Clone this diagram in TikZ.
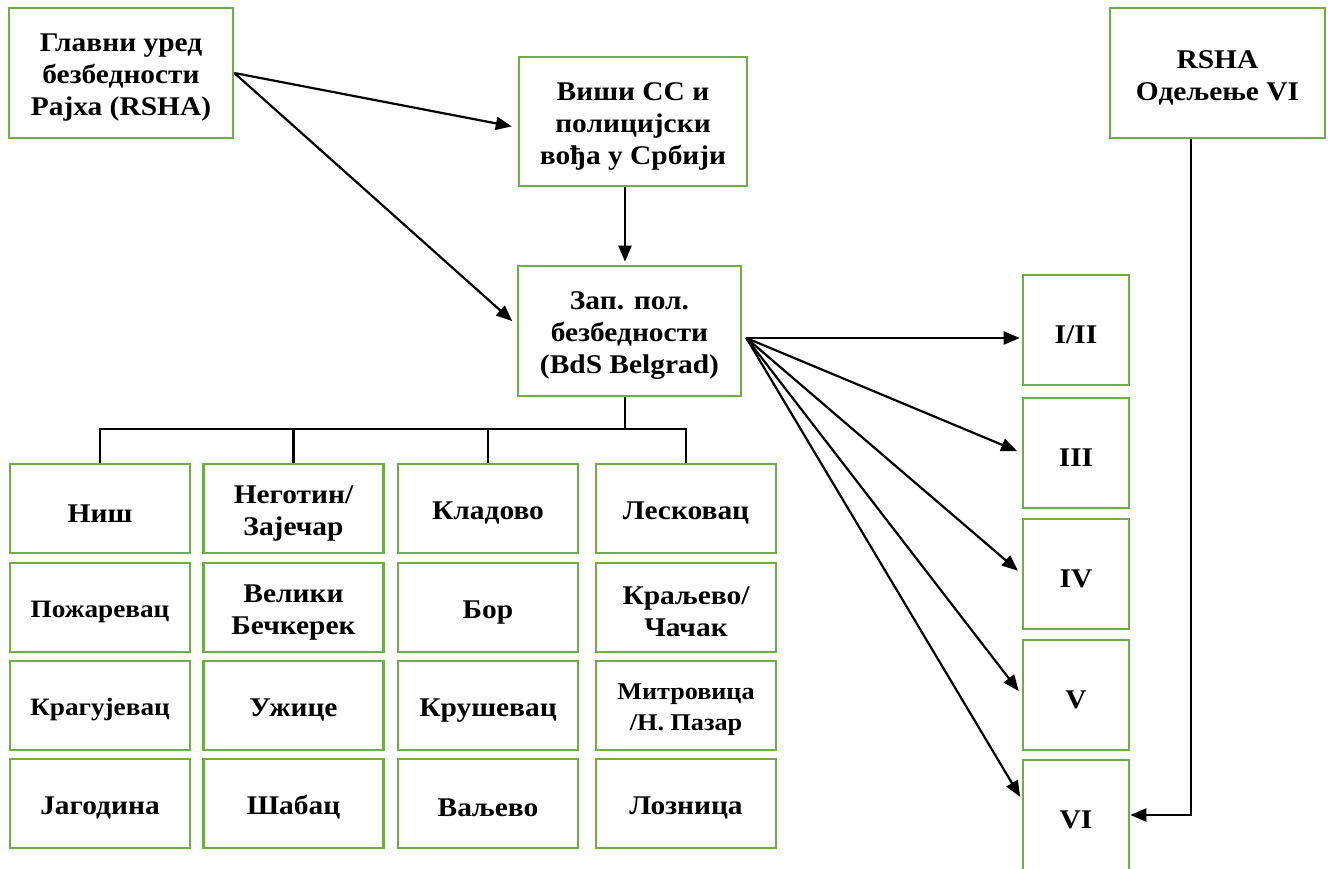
\documentclass[tikz,border=0pt]{standalone}
\usepackage{fontspec}
\setmainfont{Liberation Serif}[FakeStretch=1.09]
\usetikzlibrary{arrows.meta,calc}
\definecolor{boxgreen}{HTML}{70AD47}
\newcommand\mystrut{\vrule width 0pt height 1em\relax}
\begin{document}
\begin{tikzpicture}[x=1pt,y=-1pt,
  box/.style={draw=boxgreen,line width=2.6pt,fill=white,align=center,inner sep=0pt,
    font=\fontsize{27}{32}\selectfont\bfseries,
    execute at begin node={\mystrut}},
  cell/.style={box,minimum width=180pt,minimum height=89pt},
  small/.style={font=\fontsize{25}{31}\selectfont\bfseries},
  smaller/.style={font=\fontsize{24}{31}\selectfont\bfseries},
  side/.style={box,minimum width=106pt,minimum height=110pt},
  conn/.style={line width=2.2pt,-{Triangle[length=16pt,width=13pt]}},
  plain/.style={line width=2.2pt}]
\useasboundingbox (0,0) rectangle (1335,869);
% top boxes
\node[box,minimum width=224pt,minimum height=130pt] (A) at (121,73) {\mystrut Главни уред\\безбедности\\Рајха (RSHA)};
\node[box,minimum width=228pt,minimum height=129pt] (B) at (633,121.5) {\mystrut Виши СС и\\полицијски\\вођа у Србији};
\node[box,minimum width=223pt,minimum height=130pt] (C) at (629.5,331) {\mystrut Зап. пол.\\безбедности\\(BdS Belgrad)};
\node[box,minimum width=215pt,minimum height=130pt] (R6) at (1217.5,73) {\mystrut RSHA\\Одељење VI};
% right column
\node[side] (I) at (1076,330) {I/II};
\node[side] (III) at (1076,453) {III};
\node[side] (IV) at (1076,574) {IV};
\node[side] (V) at (1076,695) {V};
\node[side] (VI) at (1076,815) {VI};
% grid
\node[cell] (g11) at (100,508.5) {Ниш};
\node[cell,small] (g12) at (100,607.5) {Пожаревац};
\node[cell,small] (g13) at (100,705.5) {Крагујевац};
\node[cell] (g14) at (100,803.5) {Јагодина};
\node[cell] (g21) at (293.5,508.5) {\mystrut Неготин/\\Зајечар};
\node[cell] (g22) at (293.5,607.5) {\mystrut Велики\\Бечкерек};
\node[cell] (g23) at (293.5,705.5) {Ужице};
\node[cell] (g24) at (293.5,803.5) {Шабац};
\node[cell] (g31) at (488,508.5) {Кладово};
\node[cell] (g32) at (488,607.5) {Бор};
\node[cell] (g33) at (488,705.5) {Крушевац};
\node[cell] (g34) at (488,803.5) {Ваљево};
\node[cell] (g41) at (686,508.5) {Лесковац};
\node[cell] (g42) at (686,607.5) {\mystrut Краљево/\\Чачак};
\node[cell,smaller] (g43) at (686,705.5) {\mystrut Митровица\\/Н. Пазар};
\node[cell] (g44) at (686,803.5) {Лозница};
% connectors
\draw[conn,shorten >=6pt] (A.east) -- (B.183);
\draw[conn,shorten >=6pt] (A.east) -- (C.177);
\coordinate (bc) at ($(B.south)+(-8,0)$);
\draw[conn,shorten >=3pt] (bc) -- (bc |- C.north);
\coordinate (fan) at ($(C.east)+(4,7)$);
\draw[conn,shorten >=2pt] (fan) -- (fan -| I.west);
\draw[conn,shorten >=5pt] (fan) -- (III.west);
\draw[conn,shorten >=5pt] (fan) -- (IV.west);
\draw[conn,shorten >=5pt] (fan) -- (V.west);
\draw[conn,shorten >=3pt] (fan) -- (VI.164);
\draw[conn] (R6.248.6) |- (VI.east);
% bus
\coordinate (bus) at ($(bc |- C.south)+(0,32)$);
\draw[plain] (bc |- C.south) -- (bus);
\draw[plain] (g11.north) -- (g11.north |- bus) -- (g41.north |- bus) -- (g41.north);
\draw[plain] (g21.north) -- (g21.north |- bus);
\draw[plain] (g31.north) -- (g31.north |- bus);
\end{tikzpicture}
\end{document}
